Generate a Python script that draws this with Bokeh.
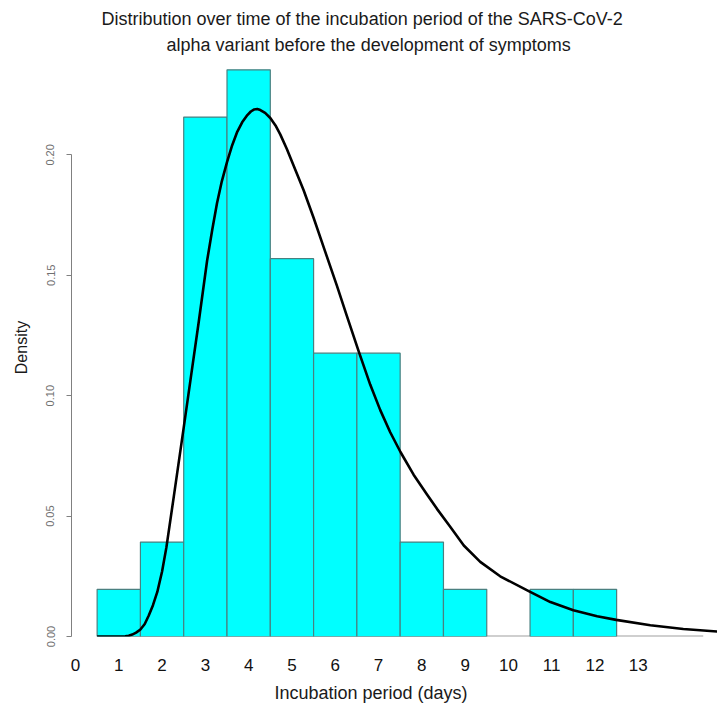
from bokeh.plotting import figure
from bokeh.models import Range1d, FixedTicker, Title, NumeralTickFormatter, ColumnDataSource
from bokeh.embed import file_html
from bokeh.resources import INLINE

# ---------------- data ----------------
title_line1 = "Distribution over time of the incubation period of the SARS-CoV-2"
title_line2 = "alpha variant before the development of symptoms"
x_label = "Incubation period (days)"
y_label = "Density"

days = [1, 2, 3, 4, 5, 6, 7, 8, 9, 10, 11, 12, 13, 14]
counts = [1, 2, 11, 12, 8, 6, 6, 2, 1, 0, 1, 1, 0, 0]

x_ticks = [0, 1, 2, 3, 4, 5, 6, 7, 8, 9, 10, 11, 12, 13]
y_ticks = [0.00, 0.05, 0.10, 0.15, 0.20]

curve_x = [0.5, 1.05, 1.15, 1.23, 1.31, 1.40, 1.5, 1.60, 1.69, 1.79, 1.89, 2.00, 2.10,
           2.27, 2.49, 2.66, 2.85, 3.04, 3.16, 3.27, 3.38, 3.50, 3.62, 3.73, 3.85,
           3.97, 4.05, 4.12, 4.20, 4.27, 4.38, 4.50, 4.62, 4.73, 4.88, 5.04, 5.27,
           5.50, 5.77, 6.04, 6.27, 6.54, 6.81, 7.04, 7.27, 7.51, 7.81, 8.12, 8.35,
           8.66, 8.97, 9.35, 9.81, 10.48, 10.97, 11.5, 12.05, 12.49, 13.28, 14.04, 14.82]
curve_y = [0.0, 0.0, 0.0001, 0.0003, 0.0008, 0.0016, 0.0029, 0.0052, 0.0086, 0.0130,
           0.0185, 0.0270, 0.037, 0.058, 0.0855, 0.107, 0.131, 0.156, 0.169, 0.180,
           0.189, 0.197, 0.204, 0.2093, 0.2135, 0.2165, 0.2180, 0.2188, 0.2190, 0.2186,
           0.2174, 0.2153, 0.2122, 0.2085, 0.2025, 0.1955, 0.1853, 0.1739, 0.1597,
           0.1456, 0.1330, 0.1185, 0.1045, 0.0940, 0.0848, 0.0765, 0.0672, 0.0590,
           0.0530, 0.0455, 0.0378, 0.0310, 0.0250, 0.0187, 0.0143, 0.0109, 0.0084,
           0.0069, 0.0047, 0.0031, 0.0021]

# ---------------- derived histogram ----------------
bin_width = 1.0
n_total = sum(counts)
lefts = [d - bin_width / 2 for d in days]
rights = [d + bin_width / 2 for d in days]
density = [c / (n_total * bin_width) for c in counts]

bars = ColumnDataSource(dict(
    left=[l for l, c in zip(lefts, counts) if c > 0],
    right=[r for r, c in zip(rights, counts) if c > 0],
    top=[d for d, c in zip(density, counts) if c > 0],
))

FONT = "Liberation Sans"

p = figure(width=717, height=709, output_backend="svg", toolbar_location=None,
           x_range=Range1d(-0.092, 14.83), y_range=Range1d(0, 0.24),
           min_border_left=71, min_border_right=0, min_border_top=58, min_border_bottom=72)

p.background_fill_color = "white"
p.border_fill_color = "white"
p.outline_line_color = None
p.xgrid.grid_line_color = None
p.ygrid.grid_line_color = None

# titles (the default title is the outer line; the added one sits next to the frame)
p.title.text = title_line1
p.title.align = "left"
p.title.offset = 30
p.title.text_font = FONT
p.title.text_font_size = "18px"
p.title.text_font_style = "normal"
p.title.text_color = "#1a1a1a"
p.title.standoff = 2
p.add_layout(Title(text=title_line2, align="left", offset=95, text_font=FONT,
                   text_font_size="18px", text_font_style="normal",
                   text_color="#1a1a1a", standoff=7), "above")

# baseline across all bins
p.segment(x0=[lefts[0]], x1=[rights[-1]], y0=[0], y1=[0], line_color="#a0a0a0", line_width=2)

# histogram bars
p.quad(left="left", right="right", bottom=0, top="top", source=bars,
       fill_color="#00FFFF", line_color="#4a8080", line_width=1.2)

# density curve
p.line(curve_x, curve_y, line_color="black", line_width=2.6, line_join="round")

# x axis
xa = p.xaxis[0]
xa.ticker = FixedTicker(ticks=x_ticks)
xa.axis_line_color = None
xa.major_tick_line_color = None
xa.minor_tick_line_color = None
xa.major_label_standoff = 16
xa.major_label_text_font = FONT
xa.major_label_text_font_size = "17px"
xa.major_label_text_color = "#111111"

p.add_layout(Title(text=x_label, align="left", offset=203, text_font=FONT,
                   text_font_size="18px", text_font_style="normal",
                   text_color="#1a1a1a", standoff=14), "below")

# y axis
ya = p.yaxis[0]
ya.ticker = FixedTicker(ticks=y_ticks)
ya.formatter = NumeralTickFormatter(format="0.00")
ya.bounds = (0, 0.2)
ya.axis_line_color = "#808080"
ya.major_tick_line_color = "#808080"
ya.minor_tick_line_color = None
ya.major_tick_in = 0
ya.major_tick_out = 5
ya.major_label_orientation = "vertical"
ya.major_label_standoff = 12
ya.major_label_text_font = FONT
ya.major_label_text_font_size = "11px"
ya.major_label_text_color = "#707070"
ya.axis_label = y_label
ya.axis_label_text_font = FONT
ya.axis_label_text_font_size = "16px"
ya.axis_label_text_font_style = "normal"
ya.axis_label_text_color = "#1a1a1a"
ya.axis_label_standoff = 14

open("out.html", "w").write(file_html(p, INLINE))
